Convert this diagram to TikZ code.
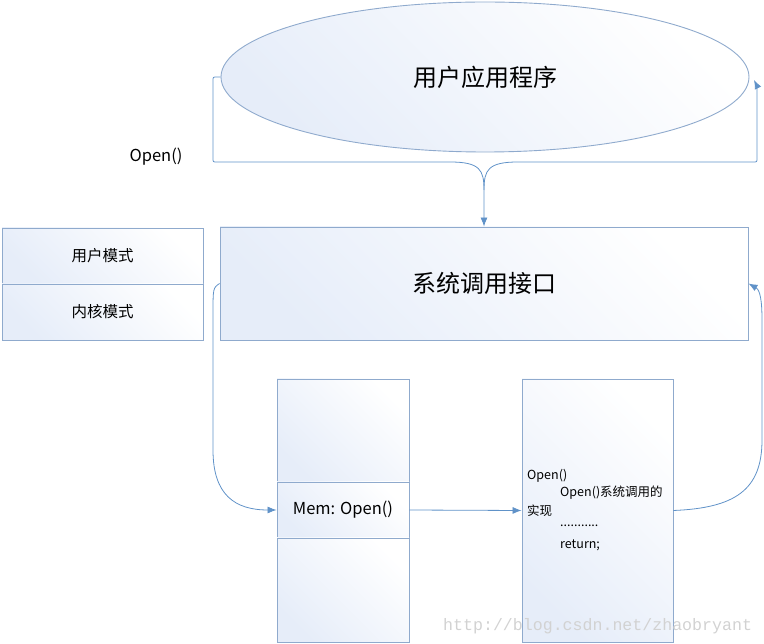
\documentclass[tikz,border=0pt]{standalone}
\usepackage{fontspec}
\setmainfont{Noto Sans CJK SC}
\newfontfamily\wmfont{Liberation Mono}
\usetikzlibrary{shapes.geometric,arrows.meta}

\definecolor{boxline}{RGB}{143,170,205}
\definecolor{flowline}{RGB}{96,146,200}
\definecolor{shadeblue}{RGB}{230,237,249}

\tikzset{
  % y 轴朝下，渐变上下颠倒：浅蓝落在左上角
  softfill/.style={top color=shadeblue, bottom color=white, shading angle=135},
  frame/.style={draw=boxline, line width=0.9pt, softfill, inner sep=0pt, anchor=center},
  flow/.style={draw=flowline, line width=0.8pt, -{Latex[length=9pt,width=7pt]}},
  codeline/.style={anchor=west, inner sep=0pt, font=\fontsize{12.5}{15}\selectfont},
}

\begin{document}
\begin{tikzpicture}[x=1pt, y=-1pt]

  %% ==== 框 ====
  \node[frame, ellipse, minimum width=528, minimum height=150] (app) at (485,77)
    {\fontsize{24}{28}\selectfont 用户应用程序};
  \node[frame, minimum width=528, minimum height=113] (sci) at (484,283.5)
    {\fontsize{24}{28}\selectfont 系统调用接口};
  \node[frame, minimum width=201, minimum height=56] (umode) at (102.5,256)
    {\fontsize{15.5}{18}\selectfont 用户模式};
  \node[frame, minimum width=201, minimum height=56] (kmode) at (102.5,312)
    {\fontsize{15.5}{18}\selectfont 内核模式};

  \node[frame, minimum width=132, minimum height=103] (memtop) at (343,430.5) {};
  \node[frame, minimum width=132, minimum height=56] (memcall) at (343,510)
    {\fontsize{16.5}{19}\selectfont Mem: Open()};
  \node[frame, minimum width=132, minimum height=104] (membot) at (343,590) {};

  \node[frame, minimum width=151, minimum height=263] (impl) at (597.5,510.5) {};

  %% ==== 文字 ====
  \node[font=\fontsize{16.5}{19}\selectfont, inner sep=0pt] (openlbl) at (156,157) {Open()};

  \node[codeline] (code1) at (527,476) {Open()};
  \node[codeline] (code2) at (560,493) {Open()系统调用的};
  \node[codeline] (code3) at (527,511) {实现};
  \node[codeline] (code4) at (560,526) {...........};
  \node[codeline] (code5) at (560,545) {return;};

  %% ==== 连线 ====
  \coordinate (split) at (484,190);
  \coordinate (back) at (754,80);

  \draw[flow] (app.west) -- (217,77) .. controls (213,77) .. (213,81)
    -- (213,158) .. controls (213,162) .. (217,162) -- (450,162)
    .. controls (480,162) and (484,170) .. (split) -- (sci.north);
  \draw[flow] (split) .. controls (484,170) and (488,162) .. (518,162)
    -- (753,162) .. controls (757,162) .. (757,158) -- (757,92)
    .. controls (757,86) .. (back);

  \draw[flow] (sci.west) .. controls (213,288) .. (213,315) -- (213,450)
    .. controls (213,495) and (235,510) .. (memcall.west);
  \draw[flow] (memcall.east) -- (impl.west);
  \draw[flow] (impl.east) .. controls (735,508) and (762,490) .. (762,440)
    -- (762,320) .. controls (762,300) and (760,290) .. (sci.east);

  %% ==== 水印 ====
  \node[font=\wmfont\fontsize{16.6}{20}\selectfont, text=gray!35, anchor=west, inner sep=0pt]
    (wmark) at (443,626) {http://blog.csdn.net/zhaobryant};

  \pgfresetboundingbox
  \path[use as bounding box] (0,0) rectangle (764,644);
\end{tikzpicture}
\end{document}
